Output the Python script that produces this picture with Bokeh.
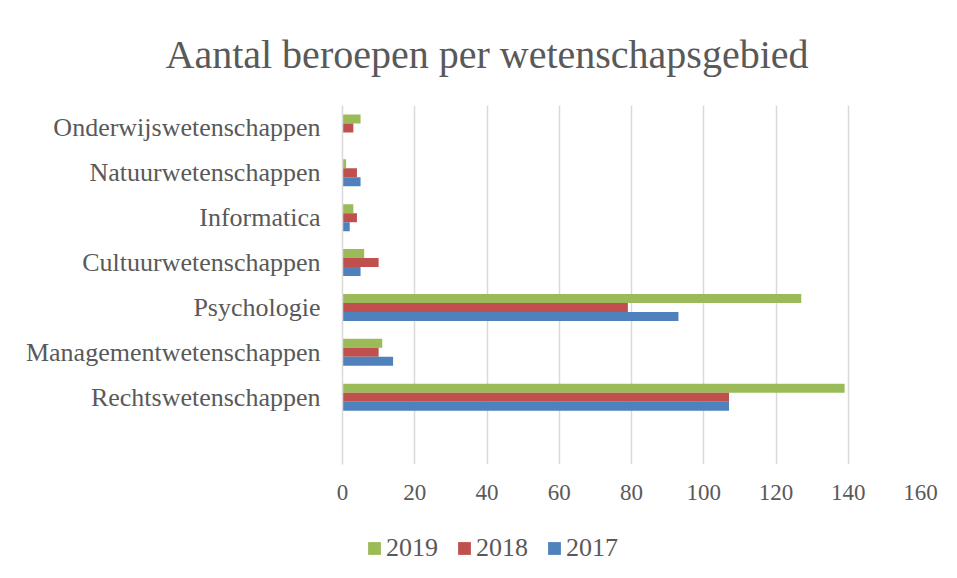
from bokeh.plotting import figure
from bokeh.layouts import column
from bokeh.models import (FactorRange, Range1d, FixedTicker, Legend, LegendItem,
                          ColumnDataSource)
from bokeh.transform import dodge
from bokeh.embed import file_html
from bokeh.resources import INLINE

# Data (bottom to top)
categories = ["Rechtswetenschappen", "Managementwetenschappen", "Psychologie",
              "Cultuurwetenschappen", "Informatica", "Natuurwetenschappen",
              "Onderwijswetenschappen"]
y2019 = [139, 11, 127, 6, 3, 1, 5]
y2018 = [107, 10, 79, 10, 4, 4, 3]
y2017 = [107, 14, 93, 5, 2, 5, 0]
series_labels = ["2019", "2018", "2017"]
series_colors = ["#9BBB59", "#C0504D", "#4F81BD"]
x_ticks = [0, 20, 40, 60, 80, 100, 120, 140, 160]
title_text = "Aantal beroepen per wetenschapsgebied"

FONT = "Liberation Serif"
TXT = "#595959"
GRID = "#d9d9d9"

factors = [" "] + categories
p = figure(frame_width=578, frame_height=359,
           y_range=FactorRange(factors=factors, range_padding=0),
           x_range=Range1d(0, 160),
           output_backend="svg", toolbar_location=None,
           min_border_left=342, min_border_right=35,
           min_border_top=105, min_border_bottom=56)
p.outline_line_color = None
p.background_fill_color = "white"
p.border_fill_color = "white"

src = ColumnDataSource(dict(cat=categories, y2019=y2019, y2018=y2018, y2017=y2017))

r19 = p.hbar(y=dodge("cat", 0.2, range=p.y_range), right="y2019", left=0, height=0.2,
             source=src, fill_color=series_colors[0], line_color=None)
r18 = p.hbar(y=dodge("cat", 0.0, range=p.y_range), right="y2018", left=0, height=0.2,
             source=src, fill_color=series_colors[1], line_color=None)
r17 = p.hbar(y=dodge("cat", -0.2, range=p.y_range), right="y2017", left=0, height=0.2,
             source=src, fill_color=series_colors[2], line_color=None)

# axes
p.xaxis.ticker = FixedTicker(ticks=x_ticks)
p.xaxis.axis_line_color = None
p.xaxis.major_tick_line_color = None
p.xaxis.minor_tick_line_color = None
p.xaxis.major_label_standoff = 14
p.xaxis.major_label_text_font = FONT
p.xaxis.major_label_text_font_size = "23px"
p.xaxis.major_label_text_color = TXT

p.yaxis.axis_line_color = GRID
p.yaxis.axis_line_width = 1.5
p.yaxis.major_tick_line_color = None
p.yaxis.minor_tick_line_color = None
p.yaxis.major_label_standoff = 16
p.yaxis.major_label_text_font = FONT
p.yaxis.major_label_text_font_size = "26px"
p.yaxis.major_label_text_color = TXT

p.ygrid.grid_line_color = None
p.xgrid.grid_line_color = GRID
p.xgrid.grid_line_width = 1.5
p.xgrid.ticker = FixedTicker(ticks=x_ticks)

p.title.text = title_text
p.title.align = "left"
p.title.offset = -177
p.title.standoff = 57
p.title.text_font = FONT
p.title.text_font_size = "40px"
p.title.text_font_style = "normal"
p.title.text_color = TXT

# legend strip below the chart (its frame lines up with the chart's frame)
lg = figure(width=955, height=56, x_range=Range1d(0, 1), y_range=Range1d(0, 1),
            output_backend="svg", toolbar_location=None,
            min_border_left=0, min_border_right=0, min_border_top=0, min_border_bottom=0)
lg.outline_line_color = None
lg.axis.visible = False
lg.grid.visible = False
lg.border_fill_color = "white"
lg.background_fill_color = "white"
items = []
for lab, col in zip(series_labels, series_colors):
    # zero-length placeholder bar, only used to give the legend its swatch
    r = lg.hbar(y=[0.5], right=[0], left=0, height=0.2, fill_color=col, line_color=None)
    items.append(LegendItem(label=lab, renderers=[r]))

legend = Legend(items=items, orientation="horizontal", location=(24, 13),
                glyph_width=16, glyph_height=16, label_standoff=4, spacing=18,
                padding=0, margin=0, border_line_color=None,
                background_fill_alpha=0,
                label_text_font=FONT, label_text_font_size="26px",
                label_text_color=TXT)
lg.add_layout(legend)

layout = column(p, lg, spacing=0)
open("out.html", "w").write(file_html(layout, INLINE))
